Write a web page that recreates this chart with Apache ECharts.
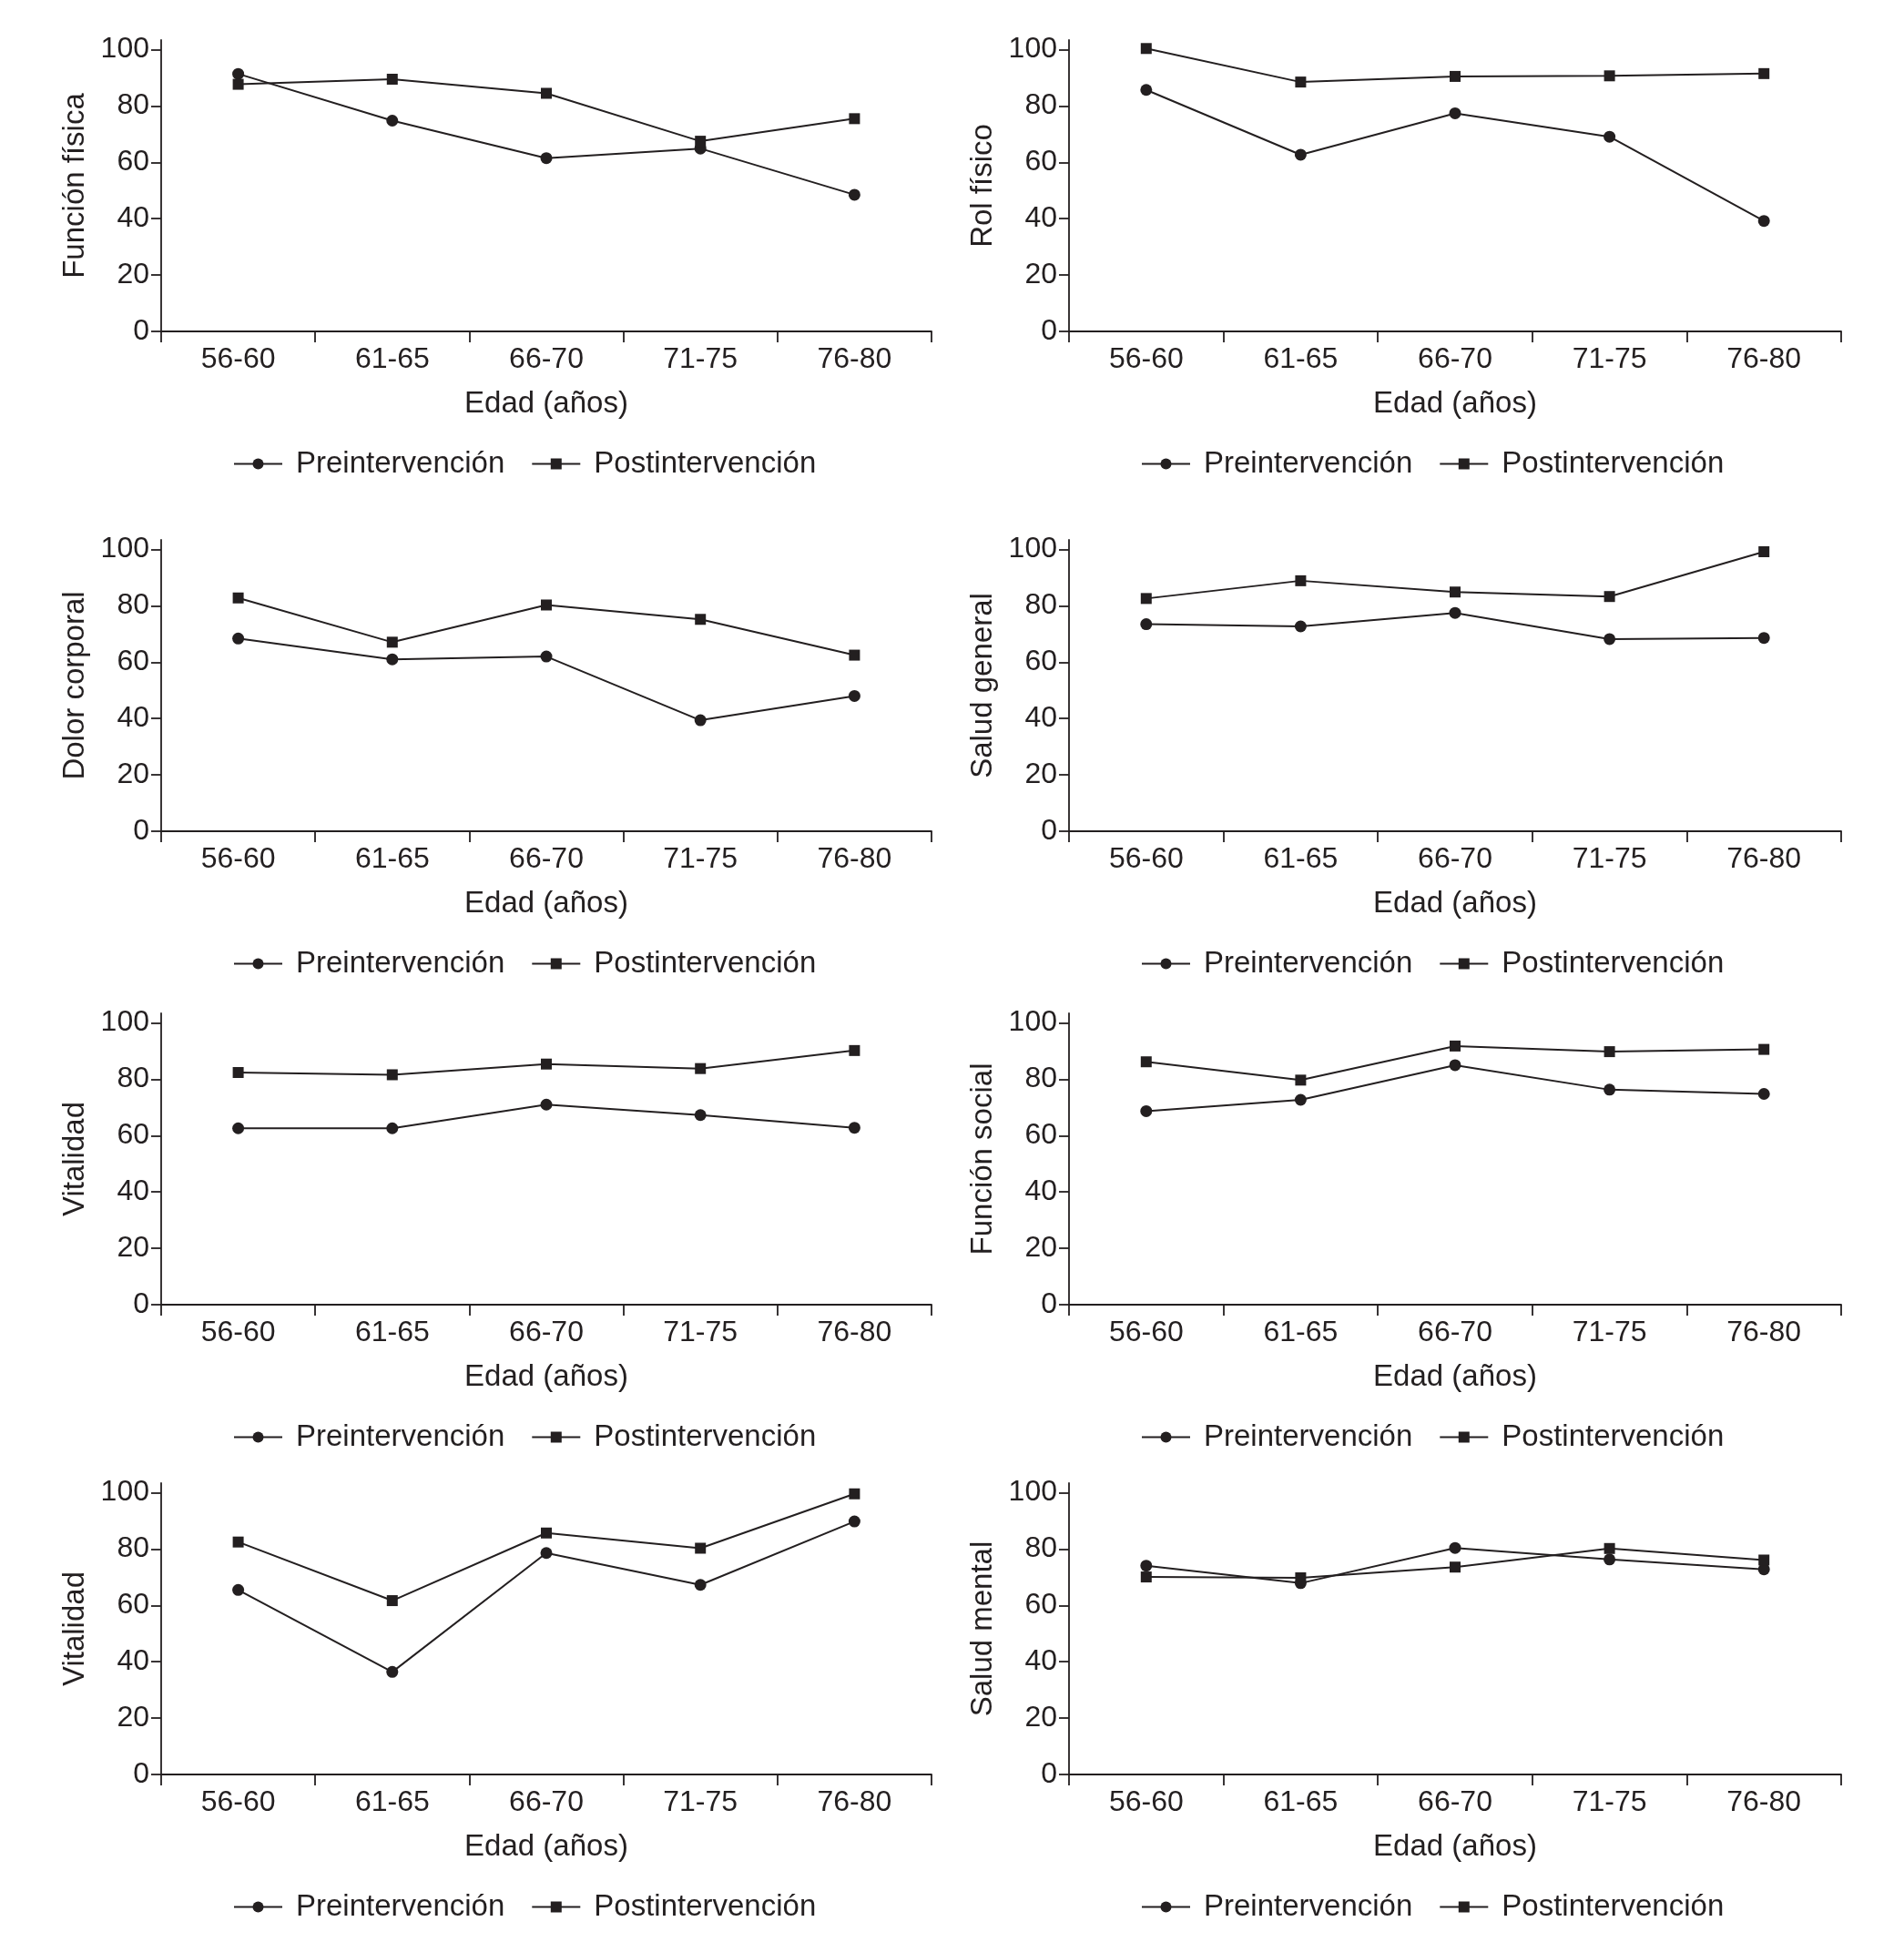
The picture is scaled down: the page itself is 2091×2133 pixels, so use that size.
<!DOCTYPE html>
<html>
<head>
<meta charset="utf-8">
<script src="https://cdn.jsdelivr.net/npm/echarts@6/dist/echarts.min.js"></script>
<style>
html,body{margin:0;padding:0;background:#fff;}
#c{width:2091px;height:2133px;}
</style>
</head>
<body>
<div id="c"></div>
<script>
// ---- data ----
var categories = ['56-60', '61-65', '66-70', '71-75', '76-80'];
var yTicks = [0, 20, 40, 60, 80, 100];
var seriesNames = ['Preintervención', 'Postintervención'];
var xAxisName = 'Edad (años)';
var panelTitles = ['Función física', 'Rol físico', 'Dolor corporal', 'Salud general',
                   'Vitalidad', 'Función social', 'Vitalidad', 'Salud mental'];

var funcionFisicaPre  = [91.4, 74.8, 61.5, 64.9, 48.5];
var funcionFisicaPost = [87.7, 89.5, 84.5, 67.5, 75.5];
var rolFisicoPre      = [85.7, 62.7, 77.4, 69.1, 39.2];
var rolFisicoPost     = [100.4, 88.5, 90.5, 90.7, 91.5];
var dolorCorporalPre  = [68.4, 61.0, 62.0, 39.4, 48.0];
var dolorCorporalPost = [82.8, 67.1, 80.3, 75.2, 62.5];
var saludGeneralPre   = [73.5, 72.7, 77.5, 68.2, 68.6];
var saludGeneralPost  = [82.6, 88.9, 84.9, 83.3, 99.2];
var vitalidadPre      = [62.6, 62.6, 71.0, 67.3, 62.8];
var vitalidadPost     = [82.4, 81.6, 85.4, 83.8, 90.2];
var funcionSocialPre  = [68.7, 72.7, 85.0, 76.3, 74.8];
var funcionSocialPost = [86.2, 79.7, 91.8, 89.8, 90.6];
var vitalidad2Pre     = [65.5, 36.4, 78.6, 67.3, 89.8];
var vitalidad2Post    = [82.5, 61.7, 85.7, 80.3, 99.6];
var saludMentalPre    = [74.1, 67.9, 80.4, 76.3, 72.8];
var saludMentalPost   = [70.1, 69.8, 73.6, 80.2, 76.1];

var panelPre  = [funcionFisicaPre, rolFisicoPre, dolorCorporalPre, saludGeneralPre,
                 vitalidadPre, funcionSocialPre, vitalidad2Pre, saludMentalPre];
var panelPost = [funcionFisicaPost, rolFisicoPost, dolorCorporalPost, saludGeneralPost,
                 vitalidadPost, funcionSocialPost, vitalidad2Post, saludMentalPost];

// ---- layout ----
var INK = '#231f20';
var FONT = '"Liberation Sans", Arial, Helvetica, sans-serif';
var colLeft = [177, 1174];
var colWidth = [846, 848];
var rowBottom = [364, 913, 1433, 1949];
var plotH = 320;

var grids = [], xAxes = [], yAxes = [], legends = [], series = [];
for (var i = 0; i < 8; i++) {
  var col = i % 2, row = Math.floor(i / 2);
  grids.push({left: colLeft[col], top: rowBottom[row] - plotH, width: colWidth[col], height: plotH, containLabel: false});
  xAxes.push({
    type: 'category', gridIndex: i, data: categories, boundaryGap: true,
    name: xAxisName, nameLocation: 'middle', nameGap: 63,
    nameTextStyle: {fontFamily: FONT, fontSize: 33, color: INK},
    axisLine: {show: true, lineStyle: {color: INK, width: 1.8}},
    axisTick: {show: true, length: 12, lineStyle: {color: INK, width: 1.8}},
    axisLabel: {fontFamily: FONT, fontSize: 32, color: INK, margin: 15},
    splitLine: {show: false}
  });
  yAxes.push({
    type: 'value', gridIndex: i, min: 0, max: 103.4,
    name: panelTitles[i], nameLocation: 'middle', nameGap: 78, nameRotate: 90,
    nameTextStyle: {fontFamily: FONT, fontSize: 33, color: INK},
    axisLine: {show: true, lineStyle: {color: INK, width: 1.8}},
    axisTick: {show: true, length: 11, customValues: yTicks, lineStyle: {color: INK, width: 1.8}},
    axisLabel: {fontFamily: FONT, fontSize: 32, color: INK, margin: 13, customValues: yTicks},
    splitLine: {show: false}
  });
  legends.push({
    left: colLeft[col] + 79, top: rowBottom[row] + 145 - 16,
    orient: 'horizontal', padding: 0,
    itemWidth: 53, itemHeight: 15, itemGap: 29,
    data: seriesNames,
    textStyle: {fontFamily: FONT, fontSize: 33, color: INK, lineHeight: 33, padding: [0, 0, 0, 10]}
  });
  series.push({
    name: seriesNames[0], type: 'line', xAxisIndex: i, yAxisIndex: i,
    data: panelPre[i], symbol: 'circle', symbolSize: 13,
    lineStyle: {color: INK, width: 2}, itemStyle: {color: INK}
  });
  series.push({
    name: seriesNames[1], type: 'line', xAxisIndex: i, yAxisIndex: i,
    data: panelPost[i], symbol: 'rect', symbolSize: 12,
    lineStyle: {color: INK, width: 2}, itemStyle: {color: INK}
  });
}

var chart = echarts.init(document.getElementById('c'), null, {renderer: 'canvas'});
chart.setOption({
  backgroundColor: '#ffffff',
  animation: false,
  grid: grids, xAxis: xAxes, yAxis: yAxes, legend: legends, series: series
});
</script>
</body>
</html>
